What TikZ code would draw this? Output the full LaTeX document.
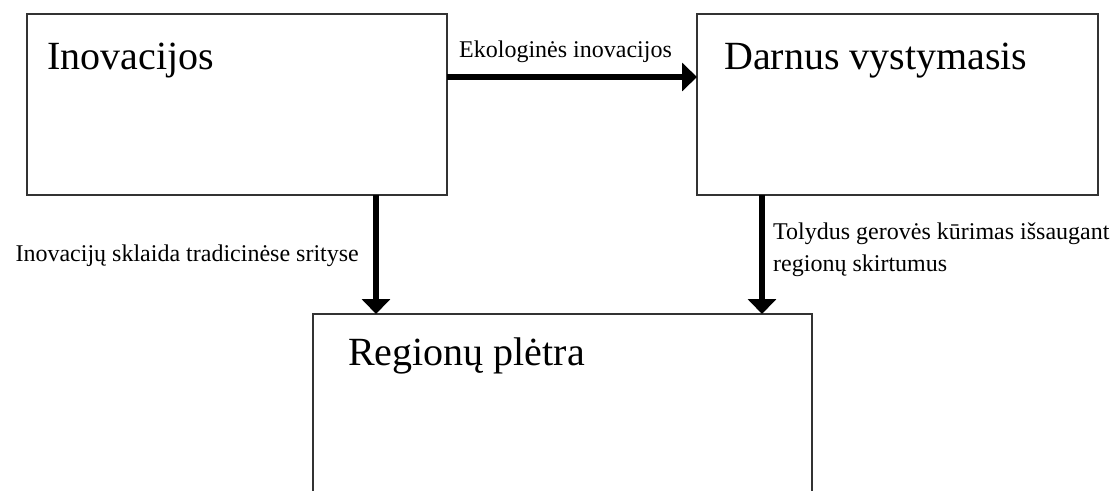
\documentclass[tikz,border=0pt]{standalone}
\usepackage{fontspec}
\setmainfont{Liberation Serif}
\usetikzlibrary{arrows.meta,positioning}
\tikzset{
    box/.style={rectangle,draw=black!80,line width=1.5pt,inner sep=0pt,outer sep=0pt},
    title/.style={anchor=base west,inner sep=0pt,font=\fontsize{40}{48}\selectfont},
    note/.style={inner sep=0pt,align=left,font=\fontsize{24}{32}\selectfont},
    flow/.style={-{Triangle[length=15pt,width=28pt]},line width=6pt}
}

\begin{document}
\begin{tikzpicture}[x=1pt,y=-1pt]

                \useasboundingbox (0,0) rectangle (1116,490);
                \clip (0,0) rectangle (1116,490);

                \node[box,minimum width=420pt,minimum height=181pt] (inov) at (237,104.5)                        {};

                \node[box,minimum width=401pt,minimum height=181pt] (darnus) [right=250pt of inov]                {};

                \node[box,minimum width=499pt,minimum height=260pt] (regio) [below right=119pt and 286pt of inov.south west] {};

                \node[title] (inovtitle)   at (47,69)   {Inovacijos};
                \node[title] (darnustitle) at (724,69)  {Darnus vystymasis};
                \node[title] (regiotitle)  at (348,365) {Regionų plėtra};

                \node[note,anchor=base west] (ekolabel)     at (459,57)  {Ekologinės inovacijos};
                \node[note,anchor=base east] (sklaidalabel) at (359,261) {Inovacijų sklaida tradicinėse srityse};
                \node[note,anchor=base west] (gerovelabel)  at (773,271) {Tolydus gerovės kūrimas išsaugant\\regionų skirtumus};

                \draw[flow] ([yshift=-63pt]inov.north east) -- ([yshift=-63pt]darnus.north west);
                \draw[flow] ([xshift=139pt]inov.south) -- ([xshift=139pt]inov.south |- regio.north);
                \draw[flow] ([xshift=-135.5pt]darnus.south) -- ([xshift=-135.5pt]darnus.south |- regio.north);

            \end{tikzpicture}
\end{document}
